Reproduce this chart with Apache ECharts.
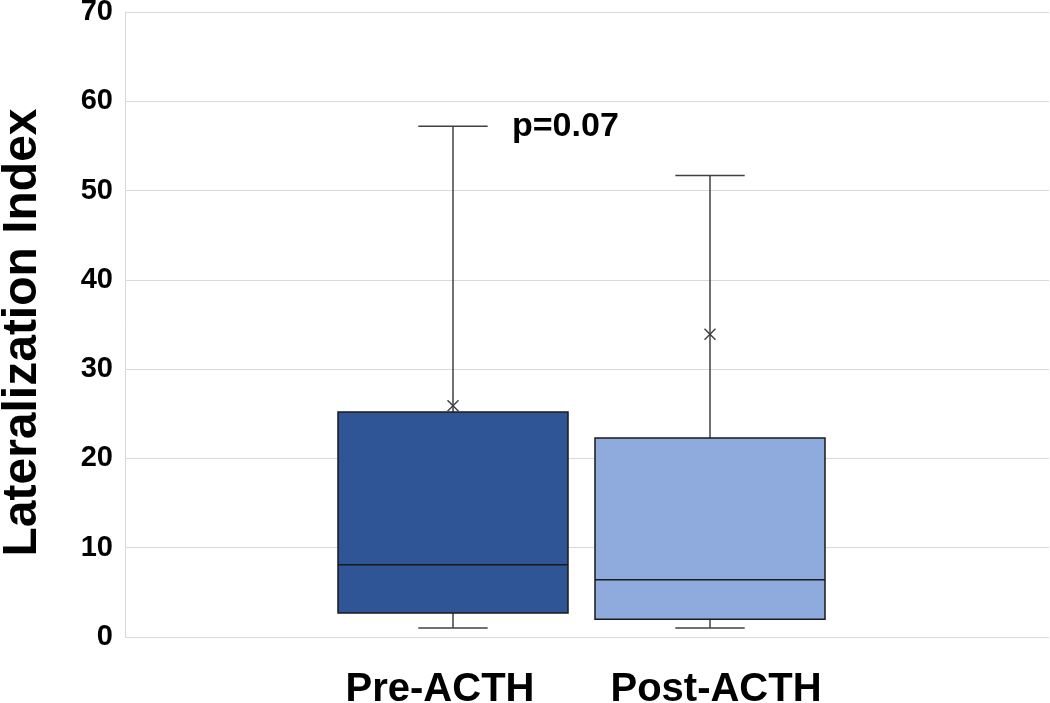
<!DOCTYPE html>
<html>
<head>
<meta charset="utf-8">
<script src="https://cdn.jsdelivr.net/npm/echarts@6/dist/echarts.min.js"></script>
<style>
  html, body { margin: 0; padding: 0; background: #ffffff; }
  #chart { width: 1050px; height: 703px; }
</style>
</head>
<body>
<div id="chart"></div>
<script>
// ---- data ----
const categories = ['Pre-ACTH', 'Post-ACTH'];
const minVals    = [1.0, 1.0];
const q1Vals     = [2.7, 2.0];
const medianVals = [8.1, 6.4];
const q3Vals     = [25.2, 22.3];
const maxVals    = [57.2, 51.7];
const meanVals   = [25.9, 33.9];
const yTicks     = [0, 10, 20, 30, 40, 50, 60, 70];
const annotation = 'p=0.07';
const yTitle     = 'Lateralization Index';

// ---- styles ----
const FONT = "'Liberation Sans', Arial, sans-serif";
const boxColors = ['#2F5597', '#8FAADC'];

const rows = categories.map((c, i) => [i, minVals[i], q1Vals[i], medianVals[i], q3Vals[i], maxVals[i], meanVals[i]]);

function renderBox(params, api) {
  const i = api.value(0);
  const pMin = api.coord([i, api.value(1)]);
  const pQ1 = api.coord([i, api.value(2)]);
  const pMed = api.coord([i, api.value(3)]);
  const pQ3 = api.coord([i, api.value(4)]);
  const pMax = api.coord([i, api.value(5)]);
  const pMean = api.coord([i, api.value(6)]);
  const band = api.size([1, 0])[0];
  const bw = band * 0.895;
  const cw = band * 0.27;
  const x = pMin[0];
  const wStyle = { stroke: '#404040', lineWidth: 1.5 };
  const ms = 5.5;
  return {
    type: 'group',
    children: [
      { type: 'line', shape: { x1: x, y1: pQ3[1], x2: x, y2: pMax[1] }, style: wStyle },
      { type: 'line', shape: { x1: x, y1: pQ1[1], x2: x, y2: pMin[1] }, style: wStyle },
      { type: 'line', shape: { x1: x - cw / 2, y1: pMax[1], x2: x + cw / 2, y2: pMax[1] }, style: wStyle },
      { type: 'line', shape: { x1: x - cw / 2, y1: pMin[1], x2: x + cw / 2, y2: pMin[1] }, style: wStyle },
      { type: 'rect', shape: { x: x - bw / 2, y: pQ3[1], width: bw, height: pQ1[1] - pQ3[1] },
        style: { fill: boxColors[params.dataIndex], stroke: '#1a1a1a', lineWidth: 1.5 } },
      { type: 'line', shape: { x1: x - bw / 2, y1: pMed[1], x2: x + bw / 2, y2: pMed[1] },
        style: { stroke: '#1a1a1a', lineWidth: 1.5 } },
      { type: 'line', shape: { x1: x - ms, y1: pMean[1] - ms, x2: x + ms, y2: pMean[1] + ms }, style: wStyle },
      { type: 'line', shape: { x1: x - ms, y1: pMean[1] + ms, x2: x + ms, y2: pMean[1] - ms }, style: wStyle }
    ]
  };
}

const chart = echarts.init(document.getElementById('chart'), null, { renderer: 'canvas' });
chart.setOption({
  backgroundColor: '#ffffff',
  animation: false,
  grid: [
    { left: 125, right: 1, top: 12, bottom: 66, containLabel: false, outerBoundsMode: 'none' },
    { left: 324.5, right: 211.5, top: 12, bottom: 66, containLabel: false, outerBoundsMode: 'none' }
  ],
  xAxis: [
    { gridIndex: 0, type: 'category', data: [''], show: false },
    {
      gridIndex: 1, type: 'category', data: categories,
      axisLine: { show: false }, axisTick: { show: false },
      axisLabel: {
        margin: 33,
        formatter: function (v, idx) { return idx === 0 ? '{a|' + v + '}' : '{b|' + v + '}'; },
        rich: {
          a: { fontFamily: FONT, fontSize: 40, fontWeight: 'bold', color: '#000', padding: [0, 26, 0, 0] },
          b: { fontFamily: FONT, fontSize: 40, fontWeight: 'bold', color: '#000', padding: [0, 0, 0, 12] }
        }
      }
    }
  ],
  yAxis: [
    {
      gridIndex: 0, type: 'value', min: yTicks[0], max: yTicks[yTicks.length - 1], interval: 10,
      name: yTitle, nameLocation: 'middle', nameGap: 78,
      nameTextStyle: { fontFamily: FONT, fontSize: 48, fontWeight: 'bold', color: '#000', padding: [0, 16, 0, 0] },
      axisLine: { show: true, lineStyle: { color: '#d9d9d9', width: 1 } },
      axisTick: { show: false },
      splitLine: { show: true, lineStyle: { color: '#d9d9d9', width: 1 } },
      axisLabel: { fontFamily: FONT, fontSize: 29, fontWeight: 'bold', color: '#000', margin: 12 }
    },
    { gridIndex: 1, type: 'value', min: yTicks[0], max: yTicks[yTicks.length - 1], interval: 10, show: false }
  ],
  series: [
    {
      type: 'custom', xAxisIndex: 1, yAxisIndex: 1,
      renderItem: renderBox,
      encode: { x: 0, y: [1, 2, 3, 4, 5, 6] },
      data: rows
    }
  ],
  graphic: [
    { type: 'text', left: 512, top: 110,
      style: { text: annotation, fontFamily: FONT, fontSize: 34, fontWeight: 'bold', fill: '#000' } }
  ]
});
</script>
</body>
</html>
